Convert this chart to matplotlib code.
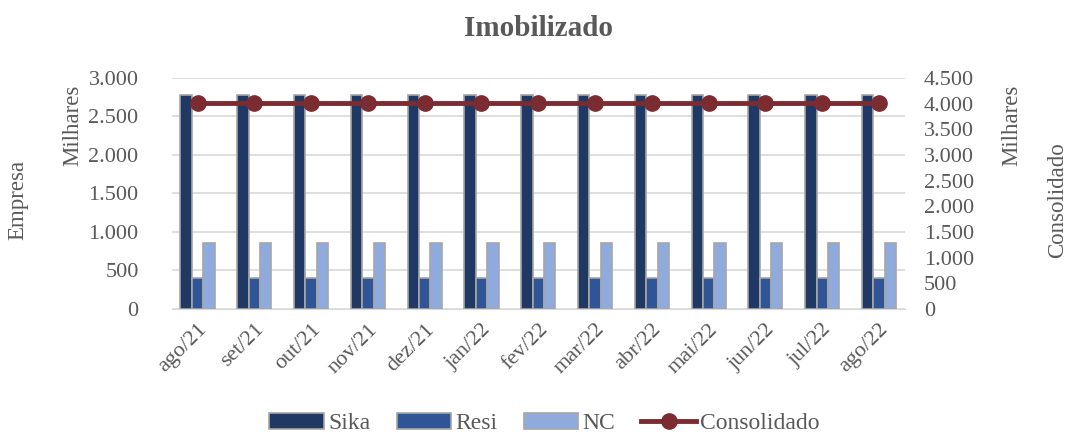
import matplotlib.pyplot as plt
import numpy as np
from matplotlib.ticker import FuncFormatter

meses = ["ago/21", "set/21", "out/21", "nov/21", "dez/21", "jan/22", "fev/22",
         "mar/22", "abr/22", "mai/22", "jun/22", "jul/22", "ago/22"]
sika = [2780, 2780, 2780, 2780, 2780, 2780, 2780, 2780, 2780, 2780, 2780, 2780, 2780]
resi = [400, 400, 400, 400, 400, 400, 400, 400, 400, 400, 400, 400, 400]
nc = [850, 850, 850, 850, 850, 850, 850, 850, 850, 850, 850, 850, 850]
consolidado = [4020, 4020, 4020, 4020, 4020, 4020, 4020, 4020, 4020, 4020, 4020, 4020, 4020]

plt.rcParams['font.family'] = ['Liberation Serif', 'DejaVu Serif']
cinza = '#595959'

fig, ax = plt.subplots(figsize=(10.68, 4.4), dpi=100)
fig.subplots_adjust(left=0.161, right=0.847, top=0.823, bottom=0.298)
ax2 = ax.twinx()

x = np.arange(len(meses))
w = 0.2
ax.bar(x - w, sika, w, color='#1F3864', edgecolor='#A6A6A6', linewidth=1.2, label='Sika', zorder=3)
ax.bar(x, resi, w, color='#2F5597', edgecolor='#A6A6A6', linewidth=1.2, label='Resi', zorder=3)
ax.bar(x + w, nc, w, color='#8FAADC', edgecolor='#A6A6A6', linewidth=1.2, label='NC', zorder=3)
ax2.plot(x, consolidado, color='#7B2C30', linewidth=3.5, marker='o', markersize=11, label='Consolidado')

fmt = FuncFormatter(lambda v, p: f"{int(v):,}".replace(",", "."))
ax.set_ylim(0, 3000)
ax.set_yticks(np.arange(0, 3001, 500))
ax.yaxis.set_major_formatter(fmt)
ax2.set_ylim(0, 4500)
ax2.set_yticks(np.arange(0, 4501, 500))
ax2.yaxis.set_major_formatter(fmt)
ax.set_xlim(-0.45, len(meses) - 0.55)
ax.set_xticks(x)
ax.set_xticklabels(meses, rotation=45, ha='right', rotation_mode='anchor')

ax.grid(axis='y', color='#D9D9D9', linewidth=1.2, zorder=0)
for a in (ax, ax2):
    for s in a.spines.values():
        s.set_visible(False)
    a.tick_params(length=0, labelsize=16, colors=cinza)
ax.spines['bottom'].set_visible(True)
ax.spines['bottom'].set_color('#D9D9D9')
ax.tick_params(axis='x', pad=8)
ax.tick_params(axis='y', pad=24)
ax2.tick_params(axis='y', pad=14)

ax.set_title("Imobilizado", fontsize=21, fontweight='bold', color=cinza, pad=30)
fig.text(0.017, 0.545, "Empresa", rotation=90, fontsize=16.5, color=cinza, va='center', ha='center')
fig.text(0.068, 0.715, "Milhares", rotation=90, fontsize=16.5, color=cinza, va='center', ha='center')
fig.text(0.947, 0.715, "Milhares", rotation=90, fontsize=16.5, color=cinza, va='center', ha='center')
fig.text(0.99, 0.545, "Consolidado", rotation=90, fontsize=16.5, color=cinza, va='center', ha='center')

h1, l1 = ax.get_legend_handles_labels()
h2, l2 = ax2.get_legend_handles_labels()
fig.legend(h1 + h2, l1 + l2, loc='lower center', ncol=4, frameon=False, fontsize=17,
           labelcolor=cinza, bbox_to_anchor=(0.51, -0.035), handlelength=2.3, columnspacing=1.1,
           handletextpad=0.2)

fig.savefig("out.png", dpi=100)
